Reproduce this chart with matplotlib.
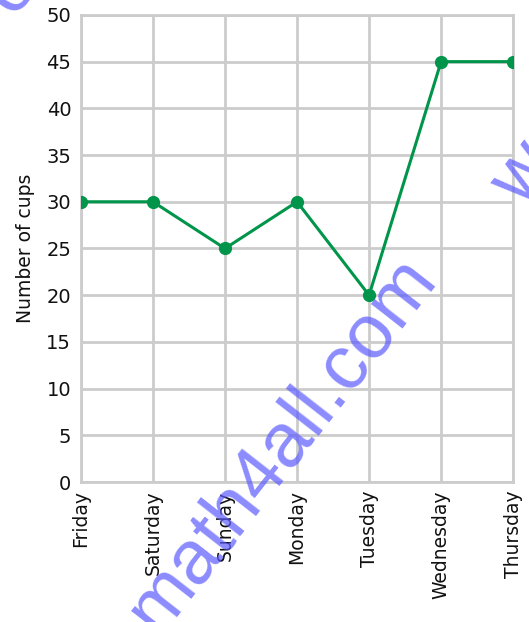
import matplotlib
matplotlib.use("Agg")
import matplotlib.pyplot as plt

# --- data ---
days = ["Friday", "Saturday", "Sunday", "Monday", "Tuesday", "Wednesday", "Thursday"]
cups = [30, 30, 25, 30, 20, 45, 45]
y_ticks = list(range(0, 55, 5))

fig = plt.figure(figsize=(5.29, 6.22), dpi=100)
ax = fig.add_axes([0.153, 0.225, 0.817, 0.751])

x = range(len(days))
ax.plot(x, cups, color="#00954a", linewidth=2.2, marker="o", markersize=8.5, zorder=3)

ax.set_xlim(0, len(days) - 1)
ax.set_ylim(0, 50)
ax.set_xticks(list(x))
ax.set_xticklabels(days, rotation=90, fontsize=13.5, color="#111111")
ax.set_yticks(y_ticks)
ax.set_yticklabels([str(v) for v in y_ticks], fontsize=14, color="#111111")
ax.tick_params(axis="y", length=0, pad=7)
ax.tick_params(axis="x", length=0, pad=6)
ax.set_ylabel("Number of cups", fontsize=13.5, color="#111111", labelpad=8)

ax.grid(True, color="#cccccc", linewidth=2)
ax.set_axisbelow(True)
for s in ax.spines.values():
    s.set_color("#cccccc")
    s.set_linewidth(2)

# watermarks
wm = dict(family="Liberation Sans", color="#5a5aff", alpha=0.7, rotation=52,
          ha="center", va="center", zorder=10)
fig.text(0.535, 0.285, "math4all.com", fontsize=55, **wm)
fig.text(0.99, 0.72, "w", fontsize=55, **wm)
fig.text(0.02, 1.02, "o", fontsize=55, **wm)

fig.savefig("out.png", dpi=100)
